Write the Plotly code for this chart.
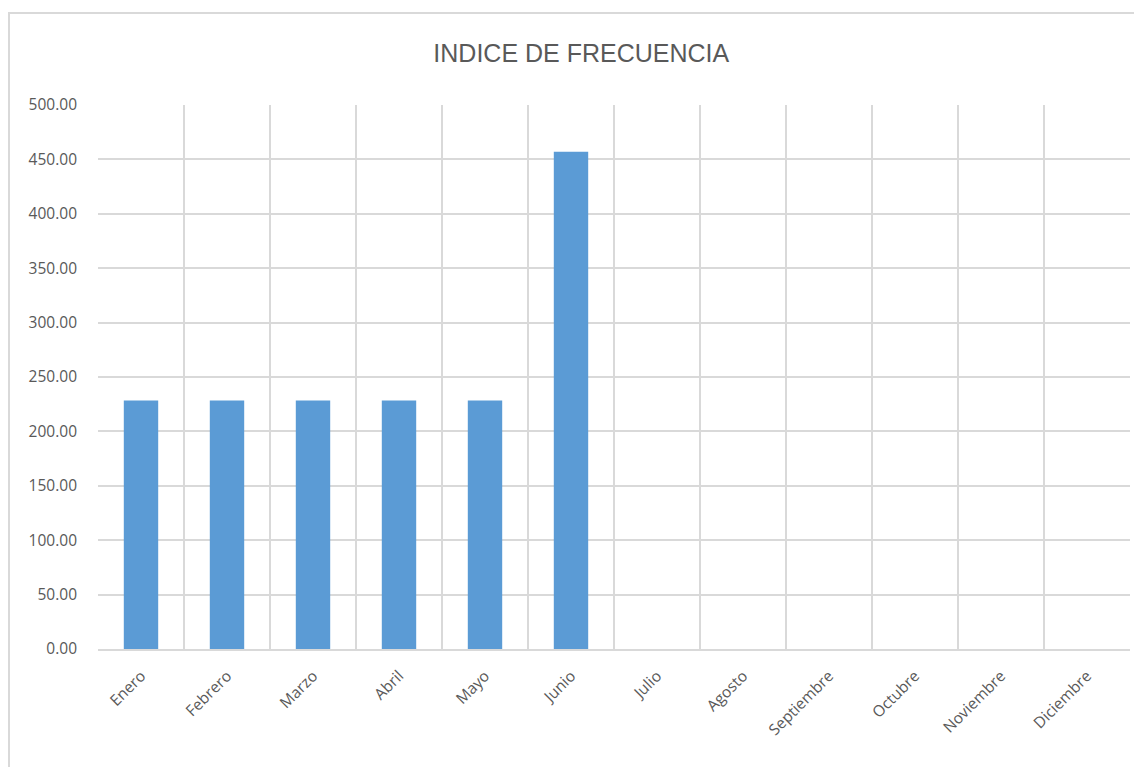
import plotly.graph_objects as go

months = ["Enero", "Febrero", "Marzo", "Abril", "Mayo", "Junio", "Julio",
          "Agosto", "Septiembre", "Octubre", "Noviembre", "Diciembre"]
indice = [228.5, 228.5, 228.5, 228.5, 228.5, 457.0, 0, 0, 0, 0, 0, 0]
y_ticks = [0, 50, 100, 150, 200, 250, 300, 350, 400, 450, 500]
title_text = "INDICE DE FRECUENCIA"

gray = "#595959"
grid = "#d9d9d9"

fig = go.Figure()
fig.add_trace(go.Bar(
    x=months, y=indice,
    marker=dict(color="#5b9bd5", line=dict(width=0)),
    xaxis="x", yaxis="y", showlegend=False, hoverinfo="x+y",
))
# invisible helper trace for boundary gridlines
fig.add_trace(go.Scatter(x=[0], y=[0], xaxis="x2", yaxis="y",
                         mode="markers", marker=dict(opacity=0),
                         showlegend=False, hoverinfo="skip"))

n = len(months)
fig.update_layout(
    width=1142, height=767,
    paper_bgcolor="white", plot_bgcolor="white",
    margin=dict(l=90, r=20, t=97, b=126),
    bargap=0.6,
    font=dict(family="Open Sans, Liberation Sans", color=gray, size=14),
    title=dict(text=title_text, x=0.502, xref="container", xanchor="center",
               y=0.941, yref="container", yanchor="middle",
               font=dict(family="Liberation Sans Narrow, Liberation Sans", size=25, color=gray)),
    xaxis=dict(type="category", categoryorder="array", categoryarray=months,
               showgrid=False, tickangle=-45, ticks="", ticklabelstandoff=10,
               tickfont=dict(size=15.5, color=gray, family="Open Sans, Liberation Sans"),
               showline=True, linecolor=grid, linewidth=1.5, range=[-0.5, n - 0.5]),
    xaxis2=dict(overlaying="x", range=[-0.5, n - 0.5],
                tickvals=[i - 0.5 for i in range(n + 1)],
                showticklabels=False, showgrid=True, gridcolor=grid, gridwidth=1.5,
                zeroline=False, ticks=""),
    yaxis=dict(range=[0, 500], tickvals=y_ticks,
               ticktext=[f"{v:.2f}" for v in y_ticks],
               showgrid=True, gridcolor=grid, gridwidth=1.5,
               zeroline=False, ticks="", ticklabelstandoff=20,
               tickfont=dict(size=15.5, color=gray, family="Open Sans, Liberation Sans"),
               showline=False),
    shapes=[dict(type="rect", xref="paper", yref="paper",
                 x0=(1 - 90) / 1032, x1=1.05, y0=-0.4, y1=1 + (97 - 5) / 544,
                 line=dict(color=grid, width=2), layer="below")],
)

fig.write_html("out.html")
